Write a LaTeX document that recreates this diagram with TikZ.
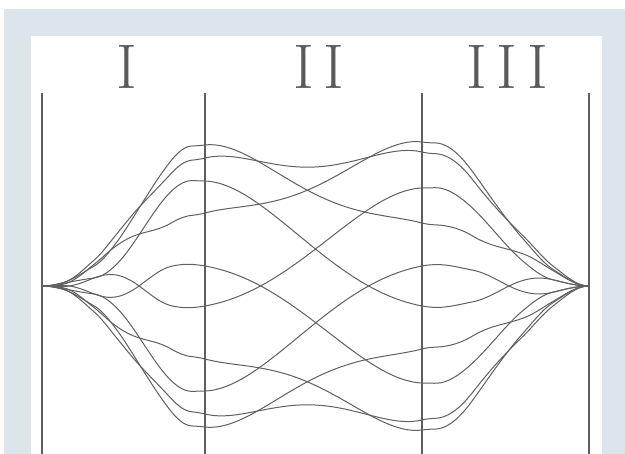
\documentclass[tikz,border=0pt]{standalone}
\usepackage{xcolor}
\usepackage{tikz}
\usetikzlibrary{positioning}
\definecolor{framebg}{HTML}{DCE5EB}
\definecolor{planeink}{HTML}{5E5E5E}
\definecolor{rayink}{HTML}{606060}
\definecolor{labelink}{HTML}{5A5A5A}
\tikzset{
  regionlabel/.style={font=\fontsize{63}{63}\selectfont, text=labelink,
                      inner sep=0pt, anchor=base},
  plane/.style      ={draw=planeink, line width=1.3pt},
  ray/.style        ={draw=rayink, line width=1pt, line cap=round, line join=round},
}

\begin{document}
\begin{tikzpicture}[x=1pt, y=-1pt,
  declare function={
    sstep(\u)=3*\u*\u-2*\u*\u*\u;
    fI(\t)=0.12*sstep(min(1,\t/0.45))+0.88*sstep(min(1,max(0,(\t-0.32)/0.6)));
    gI(\t)=(\t>0.12)*(\t<0.8)*0.16*sin(180*(\t-0.12)/0.68)^2
           -(\t>0.55)*0.135*((\t-0.55)/0.45)^2*(1-(\t-0.55)/0.45);
    fII(\t)=1-sstep(\t)-1.536*\t*\t*(1-\t)*(1-\t)+0.4*\t*\t*(1-\t);
    fIII(\t)=0.14*sstep(min(1,\t/0.4))+0.86*sstep(min(1,max(0,(\t-0.22)/0.7)));
    hIII(\t)=(\t>0.3)*0.11*sin(180*(\t-0.3)/0.7)^2
             -(\t<0.3)*0.092*(\t/0.3)*(1-\t/0.3)^2;
  }]
  \useasboundingbox (0,0) rectangle (625,454);
  % frame
  \fill[white] (0,0) rectangle (625,454);
  \fill[framebg] (4,9) rectangle (625,454);
  \fill[white] (31,36) rectangle (602,454);

  % region labels
  \node[regionlabel] (lblI)   at (127,89) {I};
  \node[regionlabel] (lblII)  at (319,89) {I\kern10pt I};
  \node[regionlabel] (lblIII) at (507,89) {I\kern10pt I\kern10pt I};

  % planes
  \foreach \xp in {42,205,422,589}
    \draw[plane] (\xp,93) -- (\xp,454);

  % focus points
  \coordinate (src) at (42,286);
  \coordinate (img) at (589,286);

  % rays: offset at plane 1 / offset at plane 2
  \foreach \a/\b in {-141/-63, -128/-134, -105/20, -73/-144, -20/97,
                     20/-98, 105/-20, 73/144, 128/134, 141/63}{
    \draw[ray] (src)
      -- plot[domain=0:1, samples=70] ({42+163*\x},{286+\a*fI(\x)+\b*gI(\x)})
      -- plot[domain=0:1, samples=70] ({205+217*\x},{286+\a*fII(\x)+\b*fII(1-\x)})
      -- plot[domain=0:1, samples=70] ({422+167*\x},{286+\a*hIII(\x)+\b*fIII(1-\x)})
      -- (img);
  }
\end{tikzpicture}
\end{document}
